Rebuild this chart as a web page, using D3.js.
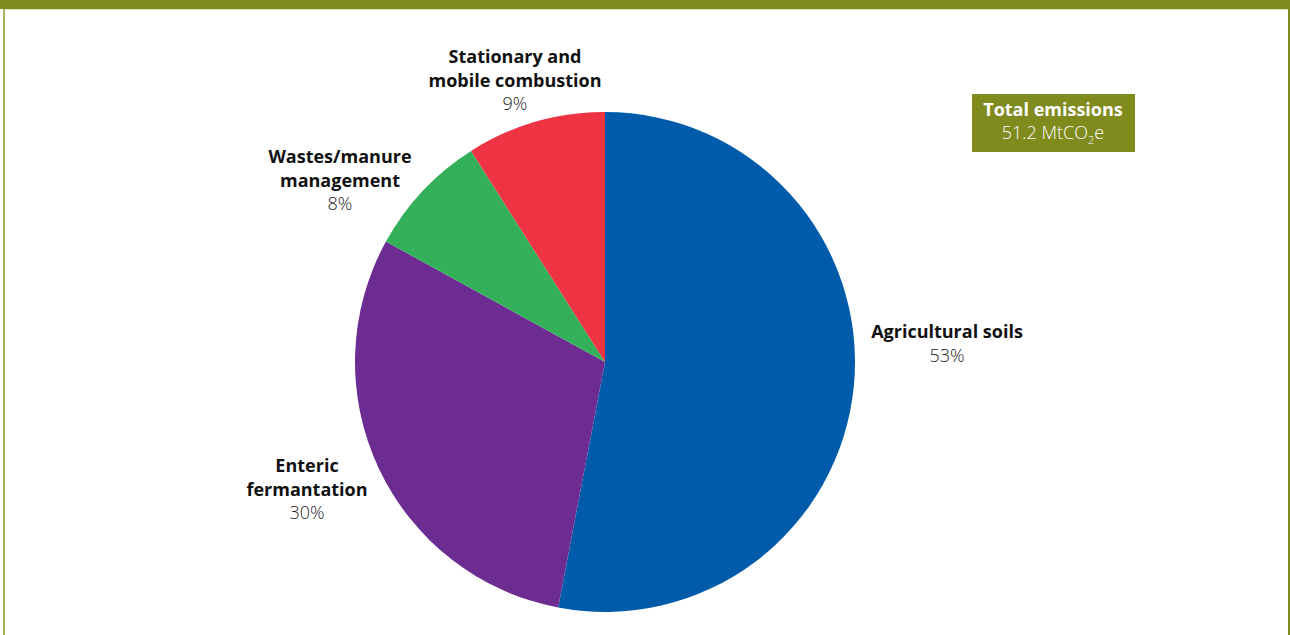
<!DOCTYPE html>
<html>
<head>
<meta charset="utf-8">
<script src="https://d3js.org/d3.v7.min.js"></script>
<style>
body { margin: 0; background: #ffffff; font-family: 'Open Sans', 'Noto Sans', sans-serif; }
.lbl { font-weight: bold; fill: #111111; }
.pct { font-weight: 300; fill: #222222; }
</style>
</head>
<body>
<svg id="chart" width="1290" height="635"></svg>
<script>
// slices go clockwise from 12 o'clock
var sources = ["Agricultural soils", "Enteric fermantation", "Wastes/manure management", "Stationary and mobile combustion"];
var shares = [53, 30, 8, 9];
var sliceColors = ["#005baa", "#6c2c91", "#34b05a", "#ee3342"];
// label lines as drawn on the chart, plus label anchor (x, y of first line)
var labelLines = [["Agricultural soils"], ["Enteric", "fermantation"], ["Wastes/manure", "management"], ["Stationary and", "mobile combustion"]];
var labelPos = [[947, 332], [307, 466], [340, 157], [515, 57]];
var totalTitle = "Total emissions";
var totalValue = "51.2";

var svg = d3.select("#chart");
var olive = "#808b1d";

// frame
svg.append("rect").attr("x", 0).attr("y", 0).attr("width", 1290).attr("height", 9).style("fill", olive);
svg.append("rect").attr("x", 3).attr("y", 9).attr("width", 2).attr("height", 626).style("fill", "#a9b060");
svg.append("rect").attr("x", 1288).attr("y", 9).attr("width", 2).attr("height", 626).style("fill", olive);
svg.append("line").attr("x1", 5).attr("x2", 1288).attr("y1", 9.5).attr("y2", 9.5)
    .style("stroke", "#dfe3c0").style("stroke-width", 1);

var cx = 605, cy = 362, radius = 250;

var pie = d3.pie().sort(null).value(function (d) { return d; });
var arc = d3.arc().innerRadius(0).outerRadius(radius);

var g = svg.append("g").attr("transform", "translate(" + cx + "," + cy + ")");
g.selectAll("path")
    .data(pie(shares))
    .enter().append("path")
    .attr("d", arc)
    .style("fill", function (d, i) { return sliceColors[i]; });

// labels
var lineH = 23.5;
labelLines.forEach(function (lines, i) {
    var t = svg.append("text")
        .attr("text-anchor", "middle")
        .attr("font-size", 18);
    lines.forEach(function (s, j) {
        t.append("tspan")
            .attr("class", "lbl")
            .attr("x", labelPos[i][0])
            .attr("y", labelPos[i][1] + j * lineH)
            .attr("dy", ".35em")
            .text(s);
    });
    t.append("tspan")
        .attr("class", "pct")
        .attr("x", labelPos[i][0])
        .attr("y", labelPos[i][1] + lines.length * lineH)
        .attr("dy", ".35em")
        .text(shares[i] + "%");
});

// total emissions box
svg.append("rect").attr("x", 972).attr("y", 94).attr("width", 163).attr("height", 58).style("fill", olive);
svg.append("text")
    .attr("x", 1053).attr("y", 110).attr("dy", ".35em")
    .attr("text-anchor", "middle")
    .attr("font-size", 18).attr("font-weight", "bold")
    .style("fill", "#ffffff")
    .text(totalTitle);
var tv = svg.append("text")
    .attr("x", 1053).attr("y", 133).attr("dy", ".35em")
    .attr("text-anchor", "middle")
    .attr("font-size", 18).attr("font-weight", 300)
    .style("fill", "#ffffff");
tv.append("tspan").text(totalValue + " MtCO");
tv.append("tspan").attr("font-size", 11).attr("dy", "5").text("2");
tv.append("tspan").attr("dy", "-5").text("e");
</script>
</body>
</html>
